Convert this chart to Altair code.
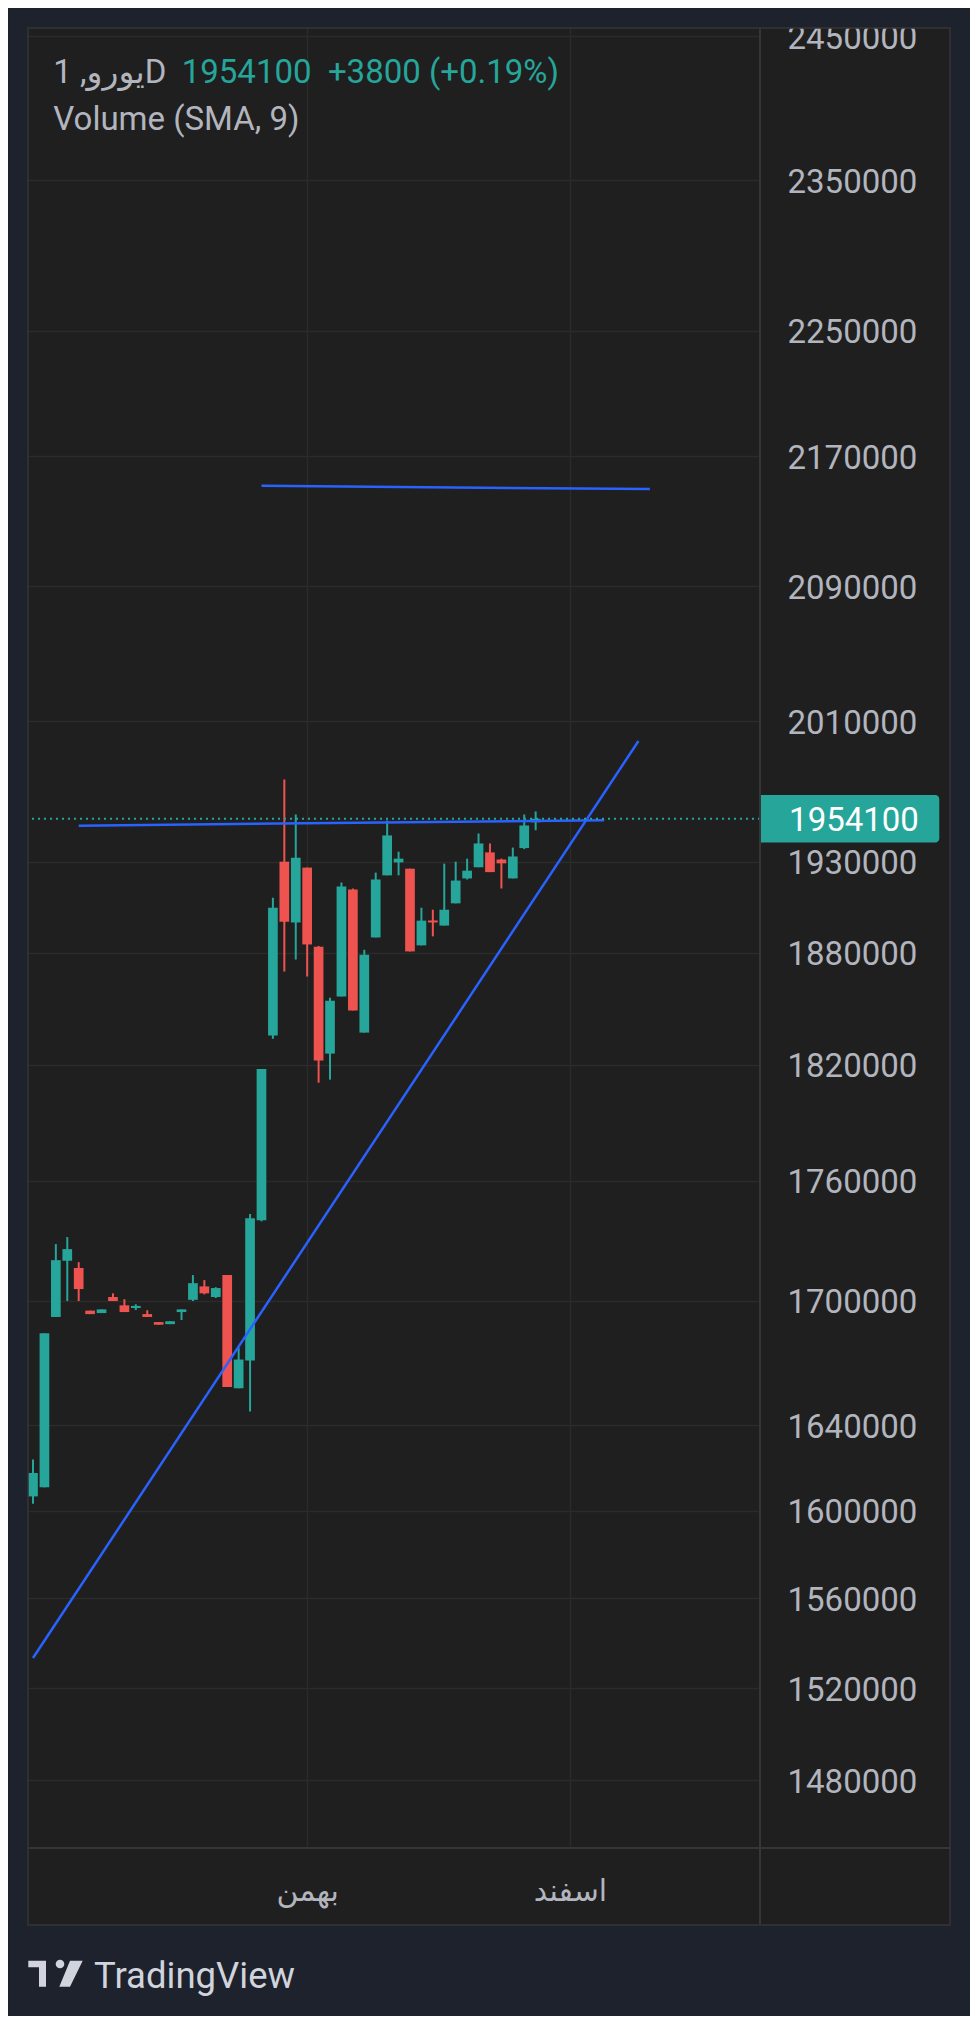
import altair as alt
import pandas as pd

# ---------------- data ----------------
opens = [1606600, 1610800, 1692100, 1719800, 1716200, 1695200, 1694000, 1701900, 1697800, 1696500,
         1693500, 1689600, 1688600, 1694500, 1700500, 1707100, 1701900, 1712700, 1657600, 1670900,
         1740100, 1835400, 1930000, 1896400, 1926700, 1883100, 1825900, 1856300, 1914500, 1837000,
         1888200, 1922400, 1929600, 1926100, 1883900, 1897500, 1894700, 1906900, 1920700, 1926900,
         1935200, 1931200, 1920700, 1937600, 1952100]
highs = [1623800, 1684100, 1728100, 1731600, 1719100, 1695200, 1695800, 1703700, 1700800, 1698300,
         1695400, 1689600, 1690000, 1695800, 1712700, 1710200, 1706700, 1712700, 1677100, 1743200,
         1817800, 1910000, 1976400, 1956500, 1926700, 1883600, 1855600, 1918400, 1915100, 1881500,
         1923900, 1953100, 1935600, 1926100, 1904500, 1903400, 1928900, 1930000, 1931700, 1945800,
         1940200, 1931700, 1937900, 1956500, 1958200]
lows = [1603200, 1610800, 1692100, 1699900, 1699900, 1693500, 1694000, 1699900, 1694500, 1695500,
        1692100, 1688300, 1688600, 1690600, 1699900, 1703200, 1701400, 1658200, 1657600, 1646500,
        1739500, 1833700, 1869700, 1876200, 1867000, 1810600, 1812200, 1856300, 1848800, 1837000,
        1888200, 1922400, 1922400, 1880600, 1883900, 1888800, 1894700, 1906900, 1920100, 1926900,
        1924200, 1915100, 1920700, 1937000, 1947600]
closes = [1617500, 1684100, 1720100, 1725600, 1705800, 1693500, 1695800, 1699900, 1694500, 1697500,
          1692100, 1688300, 1690000, 1695800, 1708700, 1703700, 1706300, 1658200, 1671400, 1741100,
          1817800, 1904500, 1896800, 1932200, 1884400, 1822200, 1854000, 1916200, 1848800, 1878800,
          1920100, 1944700, 1931700, 1880600, 1897400, 1896400, 1903400, 1919500, 1925000, 1940200,
          1924200, 1929100, 1932900, 1950300, 1954100]
bar_index = list(range(len(closes)))

month_index = [24, 47]
month_labels = ["بهمن", "اسفند"]

price_ticks = [1480000, 1520000, 1560000, 1600000, 1640000, 1700000, 1760000, 1820000, 1880000,
               1930000, 2010000, 2090000, 2170000, 2250000, 2350000, 2450000]

line_ids = ["top", "top", "resistance", "resistance", "rising", "rising"]
line_index = [20, 54, 4, 50, 0, 53]
line_price = [2151400, 2149400, 1950200, 1953300, 1533300, 1998500]

symbol_text = "یورو, 1D"
indicator_text = "Volume (SMA, 9)"
brand_text = "TradingView"

# ---------------- styling ----------------
UP = "#26a69a"
DOWN = "#ef5350"
BLUE = "#2962ff"
PANEL = "#1f1f1f"
NAVY = "#1e222d"
GRID = "#2b2b2b"
SEP = "#363636"
TXT = "#b2b5be"
FONT = "Roboto, 'DejaVu Sans', sans-serif"

W, H = 732, 1820          # plot area
PW, PH = 922, 1897        # whole panel incl. axes

last = closes[-1]
prev = closes[-2]
chg = last - prev
pct = chg / prev * 100
quote_text = f"{last}\u00a0\u00a0{chg:+d} ({pct:+.2f}%)"

candles = pd.DataFrame({"i": bar_index, "open": opens, "high": highs, "low": lows, "close": closes})
candles["dir"] = ["up" if c >= o else "down" for o, c in zip(opens, closes)]
lines = pd.DataFrame({"id": line_ids, "li": line_index, "lp": line_price})
lastdf = pd.DataFrame({"price": [last], "label": [str(last)]})
one = pd.DataFrame({"a": [0]})

label_expr = " : ".join(f"datum.value == {v} ? '{t}'" for v, t in zip(month_index[:-1], month_labels[:-1]))
label_expr = f"{label_expr} : '{month_labels[-1]}'" if label_expr else f"'{month_labels[-1]}'"

xscale = alt.Scale(domain=[0, 63.2], nice=False, zero=False)
yscale = alt.Scale(type="log", domain=[1451400, 2455700], nice=False)

xaxis = alt.Axis(values=month_index, labelExpr=label_expr, grid=True, gridColor=GRID, gridWidth=1.5,
                 domain=False, ticks=False, labelFont=FONT, labelFontSize=30, labelColor=TXT,
                 labelPadding=52, labelBaseline="alphabetic", title=None, labelOverlap=False)
yaxis = alt.Axis(orient="right", values=price_ticks, format="d", grid=True, gridColor=GRID,
                 gridWidth=1.5, domain=False, ticks=False, labelFont=FONT, labelFontSize=33,
                 labelColor=TXT, labelPadding=27, labelAlign="left", labelBaseline="middle",
                 labelOffset=2, title=None, labelOverlap=False)


def X(f):
    return alt.X(f"{f}:Q", scale=xscale, axis=xaxis)


def Y(f):
    return alt.Y(f"{f}:Q", scale=yscale, axis=yaxis)


color = alt.Color("dir:N", scale=alt.Scale(domain=["up", "down"], range=[UP, DOWN]), legend=None)

wicks = alt.Chart(candles).mark_rule(strokeWidth=2, clip=True).encode(
    x=X("i"), y=Y("low"), y2="high", color=color)
bodies = alt.Chart(candles).mark_bar(size=9.7, clip=True).encode(
    x=X("i"), y=Y("open"), y2="close", color=color)

trend = alt.Chart(lines).mark_line(color=BLUE, strokeWidth=2.5, clip=True).encode(
    x=X("li"), y=Y("lp"), detail="id:N")

price_line = alt.Chart(lastdf).mark_rule(color=UP, strokeWidth=2, strokeDash=[2, 4]).encode(
    y=Y("price"))

box_path = ("M-1,-0.263 H0.956 A0.044,0.044 0 0 1 1,-0.219 V0.219 "
            "A0.044,0.044 0 0 1 0.956,0.263 H-1 Z")
price_box = alt.Chart(lastdf).mark_point(shape=box_path, size=180 * 180, filled=True, fill=UP,
                                         opacity=1, strokeWidth=0).encode(
    x=alt.value(821.3), y=Y("price"))
price_txt = alt.Chart(lastdf).mark_text(font=FONT, fontSize=33, color="#ffffff", align="center",
                                        baseline="middle", dy=2).encode(
    x=alt.value(826), y=Y("price"), text="label:N")


# outer navy frame (outside the panel)
def frame(x, x2, y, y2):
    return alt.Chart(one).mark_rect(fill=NAVY, strokeWidth=0).encode(
        x=alt.value(x), x2=alt.value(x2), y=alt.value(y), y2=alt.value(y2))


frames = [frame(-20, PW + 20, -20, 0), frame(-20, 0, 0, PH), frame(PW, PW + 20, 0, PH),
          frame(-20, PW + 20, PH, PH + 100)]

border = alt.Chart(one).mark_rect(fill=None, stroke=SEP, strokeWidth=1.5).encode(
    x=alt.value(0), x2=alt.value(PW), y=alt.value(0), y2=alt.value(PH))
sep_v = alt.Chart(one).mark_rule(color=SEP, strokeWidth=2).encode(
    x=alt.value(W), y=alt.value(0), y2=alt.value(PH))
sep_h = alt.Chart(one).mark_rule(color=SEP, strokeWidth=2).encode(
    x=alt.value(0), x2=alt.value(PW), y=alt.value(H))


def label(text, x, y, size, col):
    return alt.Chart(one).mark_text(text=text, font=FONT, fontSize=size, color=col, align="left",
                                    baseline="alphabetic").encode(x=alt.value(x), y=alt.value(y))


hdr1 = label(symbol_text, 25.3, 54.7, 33, TXT)
hdr2 = label(quote_text, 153.7, 54.7, 33, UP)
hdr3 = label(indicator_text, 25.3, 102, 33, TXT)
brand = label(brand_text, 66, 1959.7, 36.5, "#d1d4dc")

logo_path = ("M-1,-0.478 L-0.349,-0.478 L-0.349,0.478 L-0.607,0.478 L-0.607,-0.235 L-1,-0.235 Z "
             "M0.533,-0.478 L1,-0.478 L0.533,0.478 L0.140,0.478 Z")
logo = alt.Chart(one).mark_point(shape=logo_path, size=54.4 * 54.4, filled=True, fill="#d1d4dc",
                                 opacity=1, strokeWidth=0).encode(x=alt.value(27.5), y=alt.value(1945.7))
logo_dot = alt.Chart(one).mark_point(shape="circle", size=74, filled=True, fill="#d1d4dc",
                                     opacity=1, strokeWidth=0).encode(x=alt.value(32), y=alt.value(1936))

chart = alt.layer(
    wicks, bodies, trend, price_line, price_box, price_txt,
    *frames, border, sep_v, sep_h, hdr1, hdr2, hdr3, brand, logo, logo_dot
).properties(
    width=W, height=H,
    padding={"left": 20, "top": 20, "right": 210, "bottom": 168},
    autosize=alt.AutoSizeParams(type="none"),
    background=PANEL,
).configure_view(stroke=None, fill=None)

chart.save("out.html", embed_options={"renderer": "svg", "actions": False})
